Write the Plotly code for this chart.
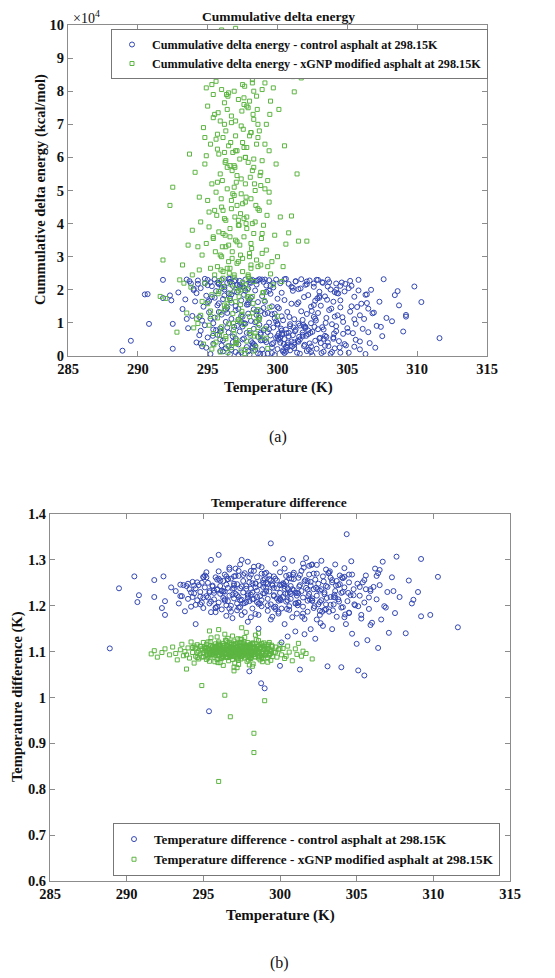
import plotly.graph_objects as go

# ---------------- data ----------------
x_tick_vals = [285, 290, 295, 300, 305, 310, 315]
energy_tick_vals = [0, 10000, 20000, 30000, 40000, 50000, 60000, 70000, 80000, 90000, 100000]
energy_tick_text = ["0", "1", "2", "3", "4", "5", "6", "7", "8", "9", "10"]
tdiff_tick_vals = [0.6, 0.7, 0.8, 0.9, 1.0, 1.1, 1.2, 1.3, 1.4]
tdiff_tick_text = ["0.6", "0.7", "0.8", "0.9", "1", "1.1", "1.2", "1.3", "1.4"]

# control asphalt: temperature (K), cumulative delta energy (kcal/mol), temperature difference (K)
ctrl_temp = [
    288.9, 289.5, 290.5, 290.7, 290.8, 291.8, 291.8, 292.4, 292.5, 292.5, 292.3, 292.9,
    293.2, 293.4, 293.5, 293.6, 293.8, 293.9, 294.0, 294.1, 294.2, 294.3, 294.4, 294.5, 294.5, 294.6, 294.7, 294.8, 294.8, 294.9, 295.0, 295.0,
    295.1, 295.2, 295.2, 295.3, 295.4, 295.4, 295.5, 295.5, 295.6, 295.7, 295.7, 295.8, 295.9, 295.9, 296.0, 296.0, 296.1, 296.1, 296.2, 296.3,
    296.3, 296.4, 296.4, 296.5, 296.5, 296.6, 296.6, 296.7, 296.7, 296.8, 296.8, 296.9, 296.9, 297.0, 297.0, 295.37, 296.2, 295.8, 296.5, 296.9,
    297.1, 297.1, 297.2, 297.2, 297.3, 297.3, 297.4, 297.4, 297.5, 297.5, 297.6, 297.6, 297.7, 297.7, 297.8, 297.8, 297.9, 297.9, 298.0, 298.0,
    298.0, 298.1, 298.1, 298.2, 298.2, 298.3, 298.3, 298.4, 298.4, 298.5, 298.5, 298.6, 298.6, 298.7, 298.7, 298.77, 298.8, 298.9, 298.9, 299.0,
    299.0, 297.5, 297.9, 298.4, 298.6, 297.2, 298.1, 298.8,
    299.1, 299.1, 299.2, 299.2, 299.3, 299.3, 299.4, 299.4, 299.5, 299.5, 299.6, 299.6, 299.7, 299.7, 299.8, 299.8, 299.9, 299.9, 300.0, 300.0,
    300.0, 300.1, 300.1, 300.2, 300.2, 300.3, 300.3, 300.3, 300.4, 300.4, 300.5, 300.5, 300.6, 300.6, 300.7, 300.7, 300.8, 300.8, 300.9, 300.9,
    301.0, 301.0, 299.3, 299.6, 299.9, 300.2, 300.5, 300.8, 300.1, 300.6,
    301.1, 301.1, 301.2, 301.2, 301.3, 301.3, 301.4, 301.4, 301.5, 301.5, 301.6, 301.6, 301.7, 301.7, 301.8, 301.8, 301.9, 301.9, 302.0, 302.0,
    302.1, 302.1, 302.2, 302.2, 302.3, 302.3, 302.4, 302.4, 302.5, 302.5, 302.6, 302.6, 302.7, 302.7, 302.8, 302.8, 302.9, 302.9, 303.0, 303.0,
    301.2, 301.6, 302.0, 302.4,
    303.1, 303.1, 303.2, 303.2, 303.3, 303.4, 303.4, 303.5, 303.6, 303.6, 303.7, 303.8, 303.8, 303.9, 304.0, 304.0, 304.1, 304.2, 304.2, 304.3,
    304.35, 304.4, 304.5, 304.5, 304.6, 304.7, 304.7, 304.8, 304.9, 305.0, 303.5, 304.1,
    305.1, 305.2, 305.3, 305.4, 305.5, 305.5, 305.6, 305.8, 305.9, 306.0, 306.2, 306.3, 306.4, 306.5, 306.6, 306.7, 306.8, 307.0, 307.1, 307.3,
    307.5, 307.6, 307.8, 305.7, 306.1,
    308.2, 308.4, 308.6, 308.7, 309.0, 309.2, 309.2, 309.8, 310.3, 311.6,
    294.2, 294.6, 294.9, 295.1, 295.3, 295.6, 295.8, 296.0, 296.2, 296.4, 296.6, 296.8, 297.0, 297.2, 297.4, 297.6, 297.8, 298.0, 298.2, 298.4,
    298.6, 298.8, 299.0, 299.2, 299.4, 299.6, 299.8, 294.4, 294.8, 295.2, 295.5, 295.9, 296.3, 296.7, 297.1, 297.5, 297.9, 298.3, 298.7, 299.1,
    300.05, 300.25, 300.45, 300.65, 300.85, 301.05, 301.25, 301.45, 301.65, 301.85, 302.05, 302.25, 302.45, 302.65, 302.85, 303.05, 303.25,
    303.45, 303.65, 303.85, 304.05, 304.25, 304.45, 304.65, 304.85, 305.05, 305.3, 305.6, 305.9, 306.3, 300.35, 300.75, 301.15, 301.55,
    301.95, 302.35, 302.75, 303.15, 303.55, 304.0,
    293.7, 294.3, 295.0, 295.7, 296.5, 297.3, 298.1, 298.9, 299.7, 300.5, 301.3, 302.1, 302.9, 303.7, 304.5, 305.2, 305.8, 306.4, 306.9, 307.4,
    296.0, 297.7, 299.5, 301.0, 302.6, 304.2, 300.0, 301.8, 303.3, 299.2,
    293.5, 294.0, 294.5, 295.0, 295.4, 295.8, 296.1, 296.4, 296.7, 297.0, 297.3, 297.6, 297.9, 298.2, 298.5, 298.8, 299.1, 299.4, 299.7, 300.0,
    300.3, 300.6, 300.9, 301.2, 301.5, 301.8, 302.1, 302.4, 302.7, 303.0, 303.3, 303.6, 303.9, 304.2, 304.5, 304.8, 305.1, 305.5, 305.9, 306.5,
    295.9, 296.6, 297.4, 298.1, 298.9, 299.6, 300.4, 301.1, 301.9, 302.6, 303.4, 304.1, 297.0, 298.5, 300.0, 301.5, 303.0, 299.0, 300.7, 302.2,
]
ctrl_energy = [
    1600, 4600, 18600, 18700, 9700, 23000, 17500, 16800, 9700, 2200, 18300, 19200,
    14200, 17100, 23100, 8400, 21900, 12100, 19900, 16500, 4100, 22800, 11800, 7600, 20500, 2900, 14900, 23300, 9300, 18200, 5600, 21400,
    13200, 600, 22300, 17800, 9900, 3700, 23200, 11600, 19600, 6400, 15300, 21700, 1500, 8300, 23000, 12500, 17200, 4700, 20800, 10300,
    2300, 22100, 14600, 7100, 18900, 500, 23300, 11200, 16100, 4200, 21200, 8800, 19500, 13800, 1200, 6100, 20100, 15900, 3000, 22600,
    9100, 19300, 3500, 14200, 22700, 7400, 16800, 1100, 21000, 11900, 5300, 18500, 23100, 9800, 2700, 15500, 20400, 12800, 400, 6900,
    22200, 17600, 10600, 3900, 23000, 14100, 8200, 19800, 1800, 12400, 21600, 5800, 16300, 9400, 23200, 600, 13600, 2000, 18100, 7800,
    22400, 5000, 1400, 3100, 800, 11000, 4500, 6500,
    16400, 4800, 21300, 8900, 13000, 700, 22900, 10100, 6200, 18800, 2600, 15000, 20700, 8600, 11400, 300, 23100, 5400, 17300, 9500,
    2100, 14400, 6800, 22000, 4000, 12000, 7700, 19100, 1300, 10800, 5100, 16900, 8000, 23300, 3300, 13300, 6000, 21800, 9000, 1700,
    15800, 4400, 7200, 3600, 10500, 5700, 900, 7000, 4900, 2800,
    6300, 19700, 2400, 11100, 22600, 7900, 1000, 15700, 4300, 20200, 9200, 700, 13500, 23200, 5900, 10900, 17800, 3000, 8500, 21500,
    12700, 1500, 6600, 18400, 3800, 22800, 9900, 14900, 200, 7300, 20900, 11800, 4600, 16700, 2200, 23000, 8100, 13000, 5300, 19400,
    3400, 5000, 8800, 1200,
    15200, 3900, 22300, 8700, 1300, 18000, 6100, 11500, 23100, 4100, 13900, 700, 20100, 9600, 5600, 16400, 2300, 21900, 7500, 12300,
    18900, 4500, 14700, 1000, 22200, 6700, 10300, 19500, 3200, 8400, 5800, 11900,
    1000, 13400, 21200, 6900, 2800, 17900, 9700, 23000, 4400, 15800, 11200, 600, 18600, 7200, 3900, 20000, 12900, 2500, 9100, 16400,
    6000, 23200, 11500, 14800, 8200,
    10500, 18400, 19600, 15300, 7400, 11900, 12400, 21000, 16300, 5400,
    19000, 10700, 2500, 16600, 21100, 7800, 13300, 3200, 18300, 8600, 22400, 5900, 15100, 400, 12100, 20600, 7000, 17000, 2400, 10200,
    22900, 4700, 14500, 19400, 8100, 900, 12800, 6300, 22000, 11300, 17600, 5000, 14000, 1900, 21400, 8900, 16200, 3600, 11500, 23100,
    5200, 8300, 3600, 6900, 11800, 2900, 7500, 4600, 20400, 9400, 6100, 1900, 13600, 8800, 17400, 5500, 22100,
    10000, 3000, 14300, 6800, 19000, 2600, 11700, 21800, 7300, 15000, 4900, 12300, 18500, 6500, 4100, 8600, 5800,
    3400, 7000, 10700, 900, 17000, 5200,
    22600, 21800, 23000, 22200, 23300, 21500, 22800, 23100, 22000, 23200, 22500, 21700, 23000, 22300, 21200, 22700, 19800, 16000, 13100, 8800,
    20500, 19700, 21200, 20900, 21900, 20000, 9800, 6400, 8000, 4200,
    11200, 20300, 3800, 16300, 8000, 22000, 1400, 13000, 18600, 5300, 20900, 9900, 15600, 2900, 22700, 7000, 12700, 19700, 3900, 14800,
    6700, 1300, 9600, 4100, 16200, 7100, 22500, 2900, 11300, 18100, 5200, 21000, 1200, 9000, 16800, 3600, 20500, 11100, 2000, 14300,
    7400, 17400, 10300, 22100, 4800, 12600, 1700, 20600, 8900, 15400, 3100, 19300, 22900, 13500, 6000, 9800, 17600, 600, 2500, 7700,
]
ctrl_tdiff = [
    1.107, 1.238, 1.264, 1.208, 1.223, 1.256, 1.219, 1.264, 1.180, 1.210, 1.195, 1.240,
    1.232, 1.205, 1.246, 1.221, 1.188, 1.243, 1.215, 1.236, 1.198, 1.252, 1.227, 1.160, 1.238, 1.212, 1.245, 1.203, 1.230, 1.250, 1.218, 1.195,
    1.240, 1.262, 1.221, 1.250, 1.205, 1.232, 1.300, 1.186, 1.244, 1.228, 1.214, 1.262, 1.198, 1.236, 1.311, 1.207, 1.226, 1.243, 1.192, 1.254,
    1.217, 1.268, 1.231, 1.178, 1.246, 1.210, 1.239, 1.283, 1.222, 1.200, 1.259, 1.173, 1.237, 1.248, 1.216, 0.970, 1.232, 1.195, 1.264, 1.224,
    1.226, 1.281, 1.205, 1.247, 1.219, 1.265, 1.197, 1.238, 1.300, 1.213, 1.254, 1.229, 1.186, 1.271, 1.208, 1.243, 1.296, 1.222, 1.057, 1.251,
    1.210, 1.237, 1.268, 1.194, 1.229, 1.276, 1.215, 1.249, 1.182, 1.233, 1.262, 1.204, 1.287, 1.221, 1.245, 1.031, 1.199, 1.256, 1.227, 1.020,
    1.270, 1.180, 1.165, 1.240, 1.150, 1.190, 1.175, 1.212,
    1.240, 1.272, 1.215, 1.189, 1.258, 1.231, 1.336, 1.203, 1.247, 1.176, 1.264, 1.221, 1.292, 1.198, 1.238, 1.255, 1.211, 1.183, 1.273, 1.228,
    1.069, 1.246, 1.194, 1.302, 1.219, 1.237, 1.160, 1.281, 1.209, 1.252, 1.133, 1.226, 1.267, 1.191, 1.243, 1.215, 1.298, 1.175, 1.234, 1.258,
    1.205, 1.144, 1.266, 1.223, 1.187, 1.249, 1.212, 1.236, 1.120, 1.260,
    1.228, 1.183, 1.261, 1.207, 1.245, 1.061, 1.232, 1.276, 1.198, 1.218, 1.253, 1.171, 1.239, 1.304, 1.211, 1.187, 1.268, 1.226, 1.149, 1.244,
    1.216, 1.290, 1.195, 1.236, 1.257, 1.128, 1.222, 1.270, 1.203, 1.248, 1.180, 1.233, 1.298, 1.212, 1.156, 1.264, 1.225, 1.191, 1.243, 1.279,
    1.207, 1.138, 1.252, 1.170,
    1.068, 1.241, 1.187, 1.272, 1.219, 1.149, 1.256, 1.203, 1.290, 1.232, 1.176, 1.245, 1.214, 1.266, 1.066, 1.228, 1.197, 1.282, 1.240, 1.160,
    1.356, 1.210, 1.251, 1.185, 1.223, 1.268, 1.139, 1.236, 1.201, 1.117, 1.219, 1.260,
    1.059, 1.222, 1.180, 1.251, 1.048, 1.207, 1.266, 1.193, 1.236, 1.163, 1.281, 1.214, 1.108, 1.245, 1.170, 1.296, 1.199, 1.230, 1.141, 1.262,
    1.184, 1.307, 1.219, 1.125, 1.241,
    1.140, 1.255, 1.205, 1.213, 1.230, 1.302, 1.177, 1.180, 1.263, 1.153,
    1.229, 1.251, 1.207, 1.266, 1.218, 1.242, 1.196, 1.275, 1.233, 1.211, 1.258, 1.187, 1.244, 1.223, 1.290, 1.205, 1.237, 1.262, 1.214, 1.248,
    1.180, 1.270, 1.227, 1.201, 1.255, 1.239, 1.216, 1.244, 1.220, 1.273, 1.209, 1.257, 1.231, 1.194, 1.265, 1.242, 1.218, 1.285, 1.205, 1.250,
    1.212, 1.247, 1.193, 1.230, 1.268, 1.205, 1.242, 1.176, 1.256, 1.221, 1.289, 1.199, 1.236, 1.162, 1.253, 1.217, 1.275,
    1.190, 1.244, 1.209, 1.262, 1.181, 1.228, 1.297, 1.203, 1.248, 1.172, 1.236, 1.158, 1.265, 1.226, 1.259, 1.201,
    1.283, 1.214, 1.239, 1.187, 1.271, 1.224, 1.196,
    1.245, 1.219, 1.262, 1.233, 1.201, 1.276, 1.224, 1.250, 1.193, 1.238, 1.267, 1.211, 1.229, 1.254, 1.184, 1.241, 1.218, 1.271, 1.196, 1.232,
    1.259, 1.206, 1.244, 1.228, 1.189, 1.263, 1.214, 1.235, 1.202, 1.247,
    1.221, 1.248, 1.202, 1.263, 1.229, 1.186, 1.255, 1.214, 1.279, 1.238, 1.196, 1.267, 1.225, 1.249, 1.208, 1.284, 1.232, 1.170, 1.259, 1.216,
    1.243, 1.199, 1.272, 1.227, 1.183, 1.254, 1.211, 1.289, 1.236, 1.192, 1.261, 1.218, 1.247, 1.175, 1.268, 1.223, 1.199, 1.256, 1.232, 1.278,
    1.235, 1.258, 1.212, 1.276, 1.241, 1.197, 1.265, 1.222, 1.287, 1.208, 1.251, 1.230, 1.264, 1.219, 1.245, 1.292, 1.203, 1.258, 1.226, 1.270,
]

# xGNP modified asphalt
gnp_temp = [
    291.6, 291.8, 292.0, 292.3, 292.5, 292.8, 293.0, 293.2, 293.3, 293.5, 293.6, 293.7, 293.8, 293.9, 294.0, 294.1, 294.2, 294.3, 294.4, 294.4,
    294.5, 294.5, 294.6, 294.6, 294.7, 294.7, 294.8, 294.8, 294.9, 294.9, 295.0, 295.0, 295.0, 295.1, 295.1, 295.2, 295.2, 295.2, 295.3, 295.3,
    295.3, 295.4, 295.4, 295.4, 295.5, 295.5, 295.5, 294.9, 295.2, 295.4,
    295.6, 295.6, 295.6, 295.7, 295.7, 295.7, 295.8, 295.8, 295.8, 295.9, 295.9, 295.9, 296.0, 296.0, 296.0, 296.0, 296.1, 296.1, 296.1, 296.2,
    296.2, 296.2, 296.3, 296.3, 296.3, 296.4, 296.4, 296.4, 296.5, 296.5, 296.5, 296.5, 295.65, 295.75, 295.85, 295.95, 296.05, 296.15, 296.25, 296.35,
    296.45, 295.97, 296.1, 296.3, 296.45,
    296.6, 296.6, 296.6, 296.6, 296.7, 296.7, 296.7, 296.76, 296.8, 296.8, 296.8, 296.9, 296.9, 296.9, 296.9, 297.0, 297.0, 297.0, 297.0, 297.1,
    297.1, 297.1, 297.2, 297.2, 297.2, 297.2, 297.3, 297.3, 297.3, 297.4, 297.4, 297.4, 297.5, 297.5, 297.5, 296.65, 296.85, 297.05, 297.15, 297.25,
    297.35, 297.45, 296.75, 296.95, 297.05, 297.25, 297.35, 297.45,
    297.6, 297.6, 297.6, 297.7, 297.7, 297.7, 297.8, 297.8, 297.8, 297.9, 297.9, 297.9, 298.0, 298.0, 298.0, 298.1, 298.1, 298.1, 298.2, 298.2,
    298.2, 298.3, 298.3, 298.3, 298.3, 298.4, 298.4, 298.5, 298.5, 298.5, 297.65, 297.75, 297.85, 297.95, 298.05, 298.15, 298.25, 298.35, 298.45, 297.7,
    297.9, 298.1,
    298.6, 298.6, 298.7, 298.7, 298.8, 298.8, 298.9, 298.9, 299.0, 299.0, 299.0, 299.1, 299.1, 299.2, 299.2, 299.3, 299.3, 299.4, 299.4, 299.5,
    299.5, 298.65, 298.75, 298.85, 298.95, 299.05, 299.25, 299.45,
    299.6, 299.7, 299.8, 299.9, 300.0, 300.1, 300.2, 300.3, 300.5, 300.6, 300.8, 301.0, 301.1, 301.2, 301.4, 301.5, 301.7, 302.1,
    295.55, 295.7, 295.85, 296.0, 296.1, 296.25, 296.4, 296.5, 296.6, 296.7, 296.8, 296.9, 297.0, 297.1, 297.2, 297.3, 297.4, 297.5, 297.6, 297.7,
    297.8, 297.9, 298.0, 298.1, 298.2, 298.3, 298.4, 298.5, 298.6, 298.8, 295.8, 296.05, 296.35, 296.55, 296.75, 296.95, 297.15, 297.35, 297.55,
    297.75, 297.95, 298.15, 298.35, 298.55, 298.9, 299.1, 299.3, 295.3, 295.1, 294.8,
    295.2, 295.45, 295.75, 296.0, 296.2, 296.45, 296.65, 296.85, 297.05, 297.25, 297.45, 297.65, 297.85, 298.05, 298.25, 298.45, 298.7, 298.95,
    299.2, 299.45, 294.6, 294.3, 293.9, 299.7, 300.0, 300.4, 295.9, 296.3, 296.9, 297.3, 297.7, 298.2, 298.6, 296.1, 296.6, 297.0, 297.5, 298.0,
    298.4, 297.2,
    295.3, 295.5, 295.7, 295.9, 296.0, 296.2, 296.3, 296.5, 296.6, 296.8, 296.9, 297.0, 297.1, 297.3, 297.4, 297.5, 297.7, 297.8, 298.0, 298.1,
    298.3, 298.4, 298.6, 298.7, 298.9, 299.1, 299.3, 295.6, 295.8, 296.1, 296.4, 296.7, 297.0, 297.2, 297.6, 297.9, 298.2, 298.5, 298.8, 299.0,
    296.2, 296.5, 296.8, 297.1, 297.4, 297.7, 298.0, 298.3, 296.9, 297.3, 297.6, 298.1, 296.4, 297.8, 295.4, 299.4, 296.0, 297.5, 298.6, 297.0,
]
gnp_energy = [
    18000, 29000, 17400, 45500, 51000, 7200, 23000, 27500, 22000, 13000, 33500, 61000, 20800, 38000, 8500, 55500, 11200, 33000, 48000, 26000,
    40500, 12300, 86000, 30500, 69000, 3600, 22000, 58000, 34000, 81000, 15800, 47000, 75500, 9300, 39000, 64000, 26500, 91000, 2100, 52000,
    18500, 72000, 35500, 6800, 88000, 44000, 24500, 60500, 13600, 79000,
    4200, 49500, 83000, 27000, 62500, 11500, 37500, 94000, 19500, 55000, 1200, 71000, 30000, 45000, 87500, 8800, 66000, 23500, 96500, 41500,
    14200, 76500, 5200, 59000, 33000, 84500, 17000, 50500, 28500, 92500, 9700, 63500, 42500, 73500, 6200, 26000, 53000, 89500, 36500, 15000,
    78500, 47500, 21000, 68000, 3000,
    57500, 19000, 85500, 38500, 2600, 70500, 44500, 31500, 98000, 12800, 61500, 24500, 80000, 6600, 48500, 35000, 91500, 16400, 66500, 28000,
    54500, 4800, 77500, 41000, 95000, 11000, 59500, 33500, 86500, 20000, 69500, 1800, 46000, 82000, 25500, 64500, 8000, 52500, 93000, 39500,
    15500, 74000, 29500, 57000, 3700, 88500, 43000, 13500,
    36000, 78000, 9500, 52000, 21500, 89000, 63000, 4500, 42000, 75000, 17500, 58500, 31000, 94500, 7700, 67500, 26500, 47500, 83500, 13000,
    56000, 37000, 71500, 1500, 22500, 87000, 50000, 29000, 64000, 10500, 81500, 40000, 18000, 97000, 54000, 32500, 73000, 6000, 45500, 60000,
    24000, 85000,
    66000, 14000, 44000, 90500, 27500, 5500, 59000, 80500, 19200, 39500, 96000, 8200, 50500, 70000, 32000, 85500, 2300, 46500, 62000, 24800,
    77000, 11800, 54500, 35500, 92000, 16800, 42500, 73000,
    28500, 81000, 36500, 58000, 12000, 74500, 42000, 22500, 63500, 33800, 37200, 42300, 84400, 79800, 55000, 34700, 84000, 34700,
    31500, 67000, 22800, 80500, 44000, 58500, 26500, 91000, 36000, 72500, 49000, 85000, 20500, 62000, 39500, 95500, 53500, 29500, 76000, 46500,
    88000, 24500, 66500, 34000, 82500, 57000, 40500, 97500, 70000, 51500, 61000, 33000, 79000, 25000, 56000, 42000, 90000, 30500, 68500,
    48000, 23500, 86000, 52000, 74500, 37000, 64000, 27000, 82000, 43500, 66000,
    12000, 3400, 18800, 7600, 15400, 1000, 21700, 9900, 4100, 17900, 12600, 700, 20000, 6300, 15900, 2700, 11000, 19100,
    5400, 14700, 16500, 9800, 24500, 21500, 30000, 27000, 13200, 5900, 23800, 10600, 2000, 18000, 8600, 25500, 16800, 3900, 22300, 11900,
    6900, 19700,
    96000, 73000, 52500, 30500, 88500, 61500, 41000, 79500, 26500, 97000, 57500, 71000, 34500, 86000, 49000, 64500, 93500, 38500, 77000, 27500,
    59500, 91500, 44500, 68000, 31000, 82500, 53000, 65500, 89000, 37000, 74500, 47000, 99000, 28500, 63000, 91000, 40000, 78500, 55500, 86500,
    70000, 33500, 84500, 45500, 96500, 60000, 30000, 80000, 51000, 93000, 41500, 67500, 57000, 75500, 36000, 49500, 98500, 88000, 27000, 62000,
]
gnp_tdiff = [
    1.095, 1.102, 1.088, 1.098, 1.106, 1.093, 1.110, 1.096, 1.082, 1.104, 1.116, 1.091, 1.100, 1.062, 1.108, 1.086, 1.121, 1.098, 1.075, 1.112,
    1.108, 1.090, 1.115, 1.098, 1.101, 1.084, 1.112, 1.095, 1.026, 1.106, 1.097, 1.120, 1.089, 1.103, 1.110, 1.094, 1.116, 1.100, 1.086, 1.107,
    1.121, 1.093, 1.104, 1.079, 1.113, 1.099, 1.130, 1.088, 1.109, 1.096,
    1.102, 1.094, 1.111, 1.088, 1.106, 1.099, 1.117, 1.092, 1.104, 1.083, 1.110, 1.097, 1.121, 1.101, 0.817, 1.091, 1.107, 1.098, 1.114, 1.086,
    1.103, 1.095, 1.118, 1.100, 1.089, 1.109, 1.005, 1.096, 1.113, 1.087, 1.105, 1.124, 1.093, 1.108, 1.099, 1.076, 1.112, 1.101, 1.090, 1.106,
    1.097, 1.115, 1.085, 1.103, 1.094,
    1.098, 1.113, 1.087, 1.105, 1.119, 1.094, 1.108, 0.958, 1.101, 1.091, 1.116, 1.104, 1.083, 1.110, 1.097, 1.123, 1.100, 1.089, 1.107, 1.095,
    1.114, 1.102, 1.086, 1.109, 1.099, 1.118, 1.092, 1.105, 1.081, 1.112, 1.096, 1.127, 1.101, 1.090, 1.108, 1.094, 1.115, 1.103, 1.088, 1.111,
    1.097, 1.120, 1.093, 1.106, 1.100, 1.084, 1.113, 1.098,
    1.104, 1.091, 1.117, 1.099, 1.108, 1.086, 1.112, 1.095, 1.103, 1.120, 1.089, 1.106, 1.097, 1.114, 1.092, 1.101, 1.110, 1.085, 1.107, 1.098,
    1.116, 0.880, 1.094, 1.109, 0.922, 1.102, 1.088, 1.111, 1.096, 1.105, 1.093, 1.113, 1.100, 1.082, 1.108, 1.097, 1.119, 1.090, 1.104, 1.099,
    1.110, 1.087,
    1.101, 1.113, 1.090, 1.107, 1.096, 1.118, 1.085, 1.104, 0.993, 1.110, 1.092, 1.099, 1.115, 1.087, 1.106, 1.094, 1.120, 1.081, 1.102, 1.111,
    1.089, 1.097, 1.109, 1.078, 1.105, 1.093, 1.116, 1.100,
    1.098, 1.110, 1.088, 1.104, 1.116, 1.093, 1.107, 1.085, 1.112, 1.099, 1.080, 1.106, 1.094, 1.118, 1.090, 1.101, 1.096, 1.084,
    1.104, 1.097, 1.110, 1.092, 1.106, 1.099, 1.113, 1.095, 1.102, 1.088, 1.108, 1.100, 1.116, 1.093, 1.105, 1.098, 1.111, 1.090, 1.103, 1.096,
    1.109, 1.101, 1.087, 1.114, 1.099, 1.106, 1.094, 1.107, 1.100, 1.091, 1.112, 1.098, 1.104, 1.089, 1.110, 1.097, 1.103, 1.115, 1.095,
    1.108, 1.101, 1.092, 1.106, 1.099, 1.112, 1.096, 1.104, 1.090, 1.107, 1.111,
    1.083, 1.122, 1.078, 1.117, 1.086, 1.125, 1.080, 1.119, 1.075, 1.128, 1.084, 1.121, 1.079, 1.116, 1.073, 1.126, 1.082, 1.119,
    1.077, 1.114, 1.087, 1.109, 1.093, 1.099, 1.106, 1.090, 1.132, 1.070, 1.134, 1.072, 1.131, 1.068, 1.124, 1.076, 1.129, 1.066, 1.127, 1.071,
    1.136, 1.065,
    1.104, 1.093, 1.111, 1.099, 1.106, 1.088, 1.114, 1.097, 1.103, 1.091, 1.109, 1.100, 1.117, 1.095, 1.107, 1.089, 1.112, 1.098, 1.105, 1.093,
    1.110, 1.101, 1.086, 1.115, 1.097, 1.106, 1.092, 1.108, 1.099, 1.113, 1.094, 1.104, 1.090, 1.111, 1.102, 1.096, 1.118, 1.100, 1.087, 1.107,
    1.098, 1.112, 1.094, 1.105, 1.101, 1.116, 1.091, 1.108, 1.100, 1.095, 1.110, 1.103, 1.138, 1.142, 1.145, 1.096, 1.148, 1.152, 1.140, 1.058,
]

n_c = min(len(ctrl_temp), len(ctrl_energy), len(ctrl_tdiff))
n_g = min(len(gnp_temp), len(gnp_energy), len(gnp_tdiff))

# ---------------- styling ----------------
# The page body adds an 8 px margin, so the figure is sized to fit the window exactly
OFF = 8
W, H = 555 - OFF, 978 - OFF
BLUE = "#3347b3"
GREEN = "#5cb541"
AXC = "#8c8c8c"
FONT = "Liberation Serif"


def px_x(p):
    return (p - OFF) / W


def px_y(p):
    return 1 - (p - OFF) / H


fig = go.Figure()

marker_c = dict(symbol="circle-open", size=5, color=BLUE, line=dict(width=1, color=BLUE))
marker_g = dict(symbol="square-open", size=4, color=GREEN, line=dict(width=1, color=GREEN))

fig.add_trace(go.Scatter(x=ctrl_temp[:n_c], y=ctrl_energy[:n_c], mode="markers", marker=marker_c,
                         name="Cummulative delta energy - control asphalt at 298.15K",
                         xaxis="x", yaxis="y", legend="legend"))
fig.add_trace(go.Scatter(x=gnp_temp[:n_g], y=gnp_energy[:n_g], mode="markers", marker=marker_g,
                         name="Cummulative delta energy - xGNP modified asphalt at 298.15K",
                         xaxis="x", yaxis="y", legend="legend"))
fig.add_trace(go.Scatter(x=ctrl_temp[:n_c], y=ctrl_tdiff[:n_c], mode="markers", marker=marker_c,
                         name="Temperature difference - control asphalt at 298.15K",
                         xaxis="x2", yaxis="y2", legend="legend2"))
fig.add_trace(go.Scatter(x=gnp_temp[:n_g], y=gnp_tdiff[:n_g], mode="markers", marker=marker_g,
                         name="Temperature difference - xGNP modified asphalt at 298.15K",
                         xaxis="x2", yaxis="y2", legend="legend2"))

axis_common = dict(showline=True, linecolor=AXC, linewidth=1, mirror="ticks", ticks="inside",
                   ticklen=5, tickcolor=AXC, showgrid=False, zeroline=False, automargin=False,
                   tickfont=dict(family=FONT, size=14.5, color="#111", weight="bold"))

fig.update_layout(
    template="none",
    width=W, height=H,
    margin=dict(l=0, r=0, t=0, b=0, pad=0, autoexpand=False),
    paper_bgcolor="white", plot_bgcolor="white",
    showlegend=True,
    xaxis=dict(domain=[px_x(68), px_x(487)], range=[285, 315], tickvals=x_tick_vals,
               anchor="y", **axis_common),
    yaxis=dict(domain=[px_y(356), px_y(25)], range=[0, 100000], tickvals=energy_tick_vals,
               ticktext=energy_tick_text, anchor="x", **axis_common),
    xaxis2=dict(domain=[px_x(50), px_x(510)], range=[285, 315], tickvals=x_tick_vals,
                anchor="y2", **axis_common),
    yaxis2=dict(domain=[px_y(881), px_y(514)], range=[0.6, 1.4], tickvals=tdiff_tick_vals,
                ticktext=tdiff_tick_text, anchor="x2", **axis_common),
    legend=dict(x=px_x(111), y=px_y(29), xanchor="left", yanchor="top",
                bgcolor="white", bordercolor="#777", borderwidth=1,
                font=dict(family=FONT, size=12.2, color="#111", weight="bold"),
                itemwidth=30, tracegroupgap=0, itemsizing="trace"),
    legend2=dict(x=px_x(113), y=px_y(876), xanchor="left", yanchor="bottom",
                 bgcolor="white", bordercolor="#777", borderwidth=1,
                 font=dict(family=FONT, size=13.2, color="#111", weight="bold"),
                 itemwidth=30, tracegroupgap=0, itemsizing="trace"),
)


def ann(text, x, y, size=14, bold=True, angle=0, xanchor="center", yanchor="middle"):
    fig.add_annotation(text=f"<b>{text}</b>" if bold else text, x=px_x(x), y=px_y(y),
                       xref="paper", yref="paper", showarrow=False, textangle=angle,
                       xanchor=xanchor, yanchor=yanchor,
                       font=dict(family=FONT, size=size, color="#111"))


ann("Cummulative delta energy", 278, 16.5, size=13.5)
ann("×10<sup>4</sup>", 71, 17.5, size=14, bold=False, xanchor="left")
ann("Temperature (K)", 278, 388, size=15)
ann("Cummulative delta energy (kcal/mol)", 40, 190, size=14.5, angle=-90)
ann("(a)", 278, 437, size=16, bold=False)

ann("Temperature difference", 279, 503, size=13.5)
ann("Temperature (K)", 280, 915, size=15)
ann("Temperature difference (K)", 17, 697, size=14.5, angle=-90)
ann("(b)", 279, 963, size=16, bold=False)

fig.write_html("out.html")
